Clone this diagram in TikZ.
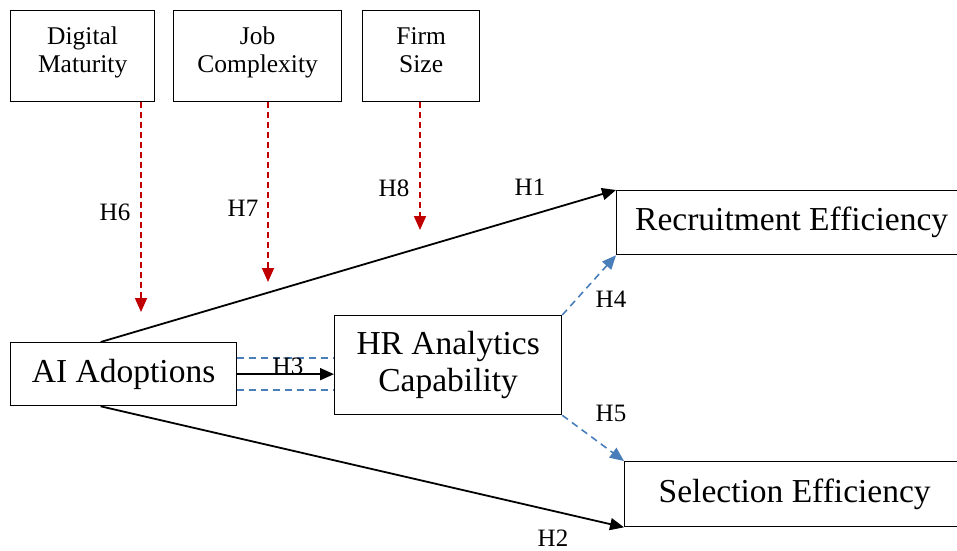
\documentclass[tikz,border=0pt]{standalone}
\usepackage{fontspec}
\setmainfont{Liberation Serif}
\usepackage{xcolor}
\usepackage{tikz}
\usetikzlibrary{arrows.meta, positioning, calc}

\definecolor{modred}{HTML}{C00000}
\definecolor{medblue}{HTML}{4A7EBB}

\begin{document}
\begin{tikzpicture}[
    x=1pt, y=-1pt,
    smallbox/.style={rectangle, draw, line width=1.3pt, anchor=north west, align=center, inner sep=0pt, text depth=13pt, font=\fontsize{25.5}{28}\selectfont},
    bigbox/.style={rectangle, draw, line width=1.3pt, anchor=north west, align=center, inner sep=0pt, font=\fontsize{33.5}{37}\selectfont},
    hlabel/.style={font=\fontsize{25}{28}\selectfont, inner sep=0pt},
    path/.style={-{Triangle[length=14pt,width=12pt]}, line width=1.8pt},
    moderate/.style={-{Triangle[length=14pt,width=12pt]}, line width=1.8pt, modred, dash pattern=on 6pt off 4pt},
    mediate/.style={-{Triangle[length=14pt,width=12pt]}, line width=1.6pt, medblue, dash pattern=on 7pt off 5pt}
]
\useasboundingbox (0,0) rectangle (957,550);

% Moderators
\node (dm) [smallbox, minimum width=144pt, minimum height=91pt] at (10,10) {Digital\\Maturity};
\node (jc) [smallbox, minimum width=168pt, minimum height=91pt] at (173,10) {Job\\Complexity};
\node (fs) [smallbox, minimum width=117pt, minimum height=91pt] at (362,10) {Firm\\Size};

% Main constructs
\node (ai) [bigbox, minimum width=226pt, minimum height=63pt] at (10,342) {AI Adoptions};
\node (hr) [bigbox, minimum width=227pt, minimum height=99pt] at (334,315) {HR Analytics\\Capability};
\node (re) [bigbox, minimum width=350pt, minimum height=64pt] at (616,190) {Recruitment Efficiency};
\node (se) [bigbox, minimum width=340pt, minimum height=65pt] at (624,461) {Selection Efficiency};

% Moderator arrow ends
\coordinate (m6) at (141,312);
\coordinate (m7) at (268,282);
\coordinate (m8) at (420,230);

% Direct paths
\draw[path] ($(ai.north)+(-23,0)$) -- (re.north west);
\draw[path] ($(ai.south)+(-23,0)$) -- (se.south west);
\draw[path] (ai.east) -- (ai.east -| hr.west);

% Mediation
\draw[medblue, line width=1.6pt, dash pattern=on 7pt off 5pt] ($(ai.east)+(0,-16)$) -- ($(ai.east -| hr.west)+(0,-16)$);
\draw[medblue, line width=1.6pt, dash pattern=on 7pt off 5pt] ($(ai.east)+(0,16)$) -- ($(ai.east -| hr.west)+(0,16)$);
\draw[mediate] (hr.north east) -- (re.south west);
\draw[mediate] (hr.south east) -- (se.north west);

% Moderation
\draw[moderate] (dm.south -| m6) -- (m6);
\draw[moderate] (jc.south -| m7) -- (m7);
\draw[moderate] (fs.south -| m8) -- (m8);

% Labels
\node (h1) [hlabel] at (530,187) {H1};
\node (h2) [hlabel] at (553,538) {H2};
\node (h3) [hlabel] at (288,366) {H3};
\node (h4) [hlabel] at (611,299) {H4};
\node (h5) [hlabel] at (611,413) {H5};
\node (h6) [hlabel] at (115,212) {H6};
\node (h7) [hlabel] at (243,208) {H7};
\node (h8) [hlabel] at (394,188) {H8};

\end{tikzpicture}
\end{document}
